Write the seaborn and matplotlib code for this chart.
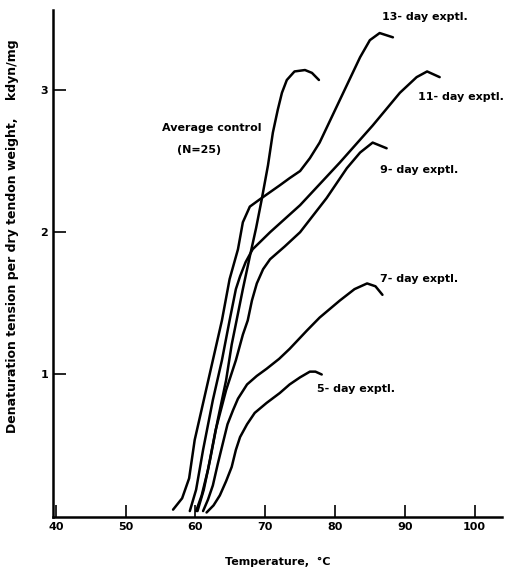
"""
Denaturation tension vs temperature for tendon samples (control and day experiments).
"""

import pandas as pd
import matplotlib
matplotlib.use("Agg")
import matplotlib.pyplot as plt
import seaborn as sns

# ─── Data ───────────────────────────────────────────────────────────────────

control_temp = [60.3, 61.2, 62.1, 63.2, 64.4, 65.2, 65.9, 66.8, 67.8, 68.7, 69.5,
                70.4, 71.1, 71.8, 72.4, 73.1, 74.2, 75.7, 76.7, 77.7]
control_val = [0.04, 0.19, 0.40, 0.68, 0.96, 1.21, 1.38, 1.60, 1.83, 2.03, 2.23,
               2.47, 2.70, 2.86, 2.98, 3.07, 3.13, 3.14, 3.12, 3.07]

day13_temp = [56.8, 58.1, 59.1, 59.9, 61.2, 62.5, 63.8, 64.9, 66.1, 66.8, 67.8,
              69.2, 72.1, 73.5, 75.0, 76.4, 77.8, 80.7, 83.6, 85.0, 86.4, 88.3]
day13_val = [0.05, 0.13, 0.27, 0.54, 0.82, 1.10, 1.38, 1.67, 1.88, 2.07, 2.18,
             2.23, 2.33, 2.38, 2.43, 2.52, 2.63, 2.93, 3.23, 3.35, 3.40, 3.37]

day11_temp = [59.2, 60.1, 61.1, 62.5, 63.8, 64.9, 65.8, 66.4, 67.2, 68.2, 70.7,
              75.0, 80.7, 85.4, 89.3, 91.7, 93.2, 95.0]
day11_val = [0.04, 0.19, 0.47, 0.82, 1.10, 1.38, 1.60, 1.69, 1.79, 1.88, 2.00,
             2.19, 2.49, 2.75, 2.98, 3.09, 3.13, 3.09]

day9_temp = [60.1, 60.9, 61.8, 62.9, 64.4, 65.8, 66.8, 67.5, 68.1, 68.8, 69.7,
             70.7, 72.8, 75.0, 78.8, 81.7, 83.6, 85.4, 87.4]
day9_val = [0.04, 0.15, 0.33, 0.61, 0.89, 1.10, 1.28, 1.38, 1.52, 1.64, 1.74,
            1.81, 1.90, 2.00, 2.24, 2.45, 2.56, 2.63, 2.59]

day7_temp = [61.1, 61.8, 62.5, 63.2, 63.9, 64.6, 65.4, 66.1, 67.4, 68.8, 70.2,
             72.0, 73.5, 76.0, 77.8, 80.7, 82.8, 84.6, 85.8, 86.8]
day7_val = [0.04, 0.12, 0.22, 0.37, 0.51, 0.65, 0.75, 0.83, 0.93, 0.99, 1.04,
            1.11, 1.18, 1.31, 1.40, 1.52, 1.60, 1.64, 1.62, 1.56]

day5_temp = [61.6, 62.6, 63.5, 64.4, 65.2, 65.8, 66.4, 67.4, 68.5, 70.2, 72.1,
             73.5, 75.0, 76.4, 77.2, 78.1]
day5_val = [0.03, 0.08, 0.15, 0.25, 0.35, 0.47, 0.56, 0.65, 0.73, 0.80, 0.87,
            0.93, 0.98, 1.02, 1.02, 1.00]

x_ticks = [40, 50, 60, 70, 80, 90, 100]
y_ticks = [1, 2, 3]

series = {
    "control": (control_temp, control_val),
    "13-day": (day13_temp, day13_val),
    "11-day": (day11_temp, day11_val),
    "9-day": (day9_temp, day9_val),
    "7-day": (day7_temp, day7_val),
    "5-day": (day5_temp, day5_val),
}

frames = []
for name, (t, v) in series.items():
    frames.append(pd.DataFrame({"temp": t, "tension": v, "series": name}))
df = pd.concat(frames, ignore_index=True)

# ─── Plot ───────────────────────────────────────────────────────────────────

sns.set_style("ticks")
plt.rcParams["font.family"] = ["DejaVu Sans"]
plt.rcParams["text.color"] = "black"
plt.rcParams["axes.labelcolor"] = "black"

fig = plt.figure(figsize=(5.05, 5.71), dpi=100)
ax = fig.add_axes([0.105, 0.095, 0.89, 0.887])

sns.lineplot(data=df, x="temp", y="tension", units="series", estimator=None,
             sort=False, color="black", linewidth=1.8, ax=ax)

ax.set_xlim(39.6, 104)
ax.set_ylim(0, 3.56)
ax.set_xticks(x_ticks)
ax.set_yticks(y_ticks)
ax.tick_params(axis="both", direction="in", length=9, width=1.2,
               labelsize=8, colors="black")
for lbl in ax.get_xticklabels() + ax.get_yticklabels():
    lbl.set_fontweight("bold")

sns.despine(ax=ax)
for side in ["left", "bottom"]:
    ax.spines[side].set_linewidth(1.8)
    ax.spines[side].set_color("black")

ax.set_xlabel("Temperature,  °C", fontsize=8, fontweight="bold", labelpad=18)
ax.set_ylabel("Denaturation tension per dry tendon weight,    kdyn/mg",
              fontsize=9, fontweight="bold")
ax.yaxis.set_label_coords(-0.075, 0.554)

# curve annotations
kw = dict(fontsize=8, fontweight="bold", ha="left", va="center", color="black")
ax.text(86.8, 3.51, "13- day exptl.", **kw)
ax.text(91.9, 2.95, "11- day exptl.", **kw)
ax.text(86.4, 2.44, "9- day exptl.", **kw)
ax.text(86.4, 1.67, "7- day exptl.", **kw)
ax.text(77.4, 0.90, "5- day exptl.", **kw)
ax.text(55.2, 2.73, "Average control", **kw)
ax.text(57.3, 2.58, "(N=25)", **kw)

fig.savefig("out.png", dpi=100)
plt.close(fig)
